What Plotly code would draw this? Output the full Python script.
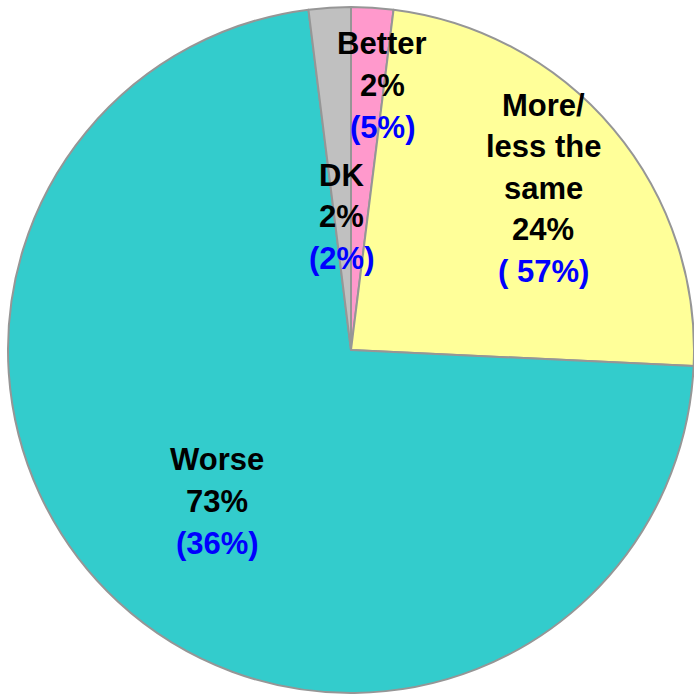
import plotly.graph_objects as go

# Data
categories = ["Better", "More/less the same", "Worse", "DK"]
values = [2, 24, 73, 2]
prior_values = [5, 57, 36, 2]
colors = ["#FF99CC", "#FFFF99", "#33CCCC", "#C0C0C0"]

W, H = 694, 697

fig = go.Figure()
fig.add_trace(go.Pie(
    labels=categories,
    values=values,
    sort=False,
    direction="clockwise",
    rotation=0,
    marker=dict(colors=colors, line=dict(color="#969696", width=2)),
    textinfo="none",
    hoverinfo="label+value",
    showlegend=False,
    domain=dict(x=[8 / W, 1], y=[4 / H, 1 - 7 / H]),
))

# label lines: (text lines, x center px, y px of first line)
label_layout = [
    (["Better", f"{values[0]}%", f"({prior_values[0]}%)"], 382, 44),
    (["More/", "less the", "same", f"{values[1]}%", f"( {prior_values[1]}%)"], 543, 105),
    (["Worse", f"{values[2]}%", f"({prior_values[2]}%)"], 217, 460),
    (["DK", f"{values[3]}%", f"({prior_values[3]}%)"], 341, 175),
]
line_gap = 41.5

annotations = []
for lines, xc, y0 in label_layout:
    n = len(lines)
    for i, t in enumerate(lines):
        color = "#0000FF" if i == n - 1 else "#000000"
        yp = y0 + i * line_gap
        annotations.append(dict(
            x=xc / W, y=1 - yp / H, xref="paper", yref="paper",
            text=f"<b>{t}</b>", showarrow=False,
            xanchor="center", yanchor="middle",
            font=dict(family="Liberation Sans, Arial, sans-serif", size=31, color=color),
        ))

fig.update_layout(
    width=W, height=H,
    margin=dict(l=0, r=0, t=0, b=0),
    paper_bgcolor="white",
    plot_bgcolor="white",
    annotations=annotations,
)

fig.write_html("out.html")
